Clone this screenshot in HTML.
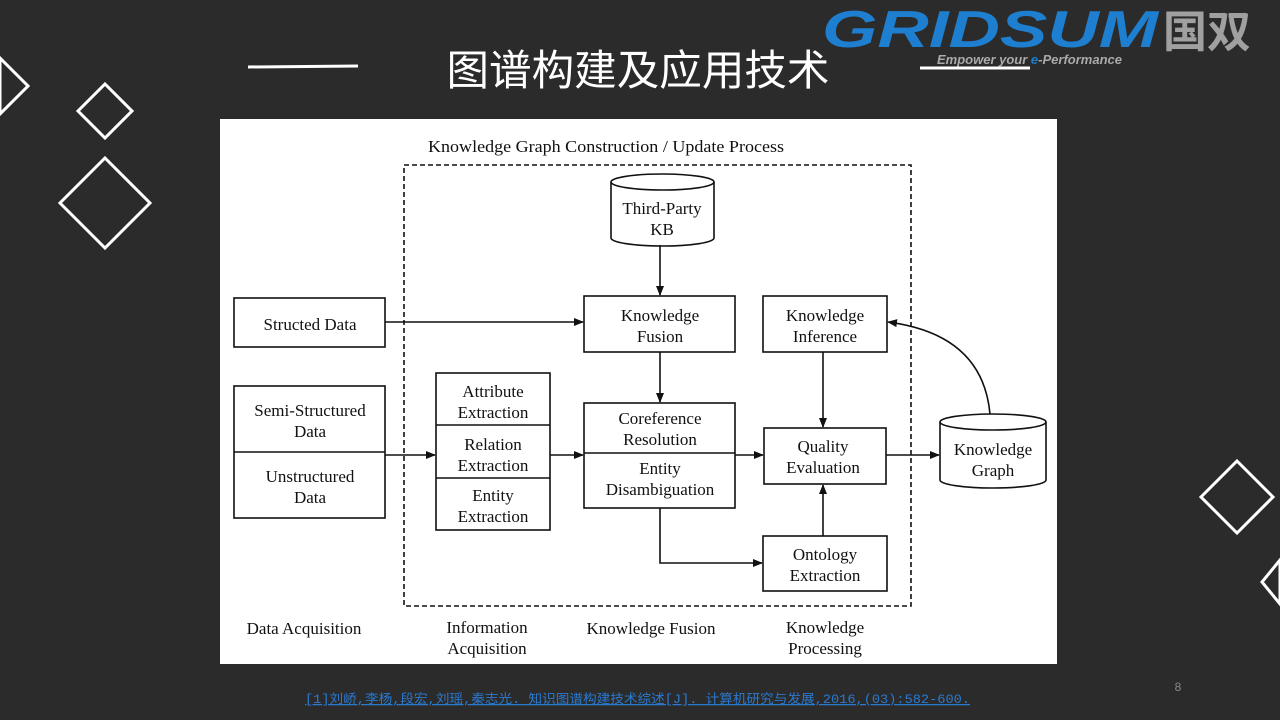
<!DOCTYPE html>
<html><head><meta charset="utf-8"><style>
body{margin:0;width:1280px;height:720px;background:#2b2b2b;overflow:hidden;position:relative;font-family:"Liberation Sans",sans-serif}
</style></head><body>
<svg width="1280" height="720" style="position:absolute;left:0;top:0">
<g fill="none" stroke="#fff" stroke-width="3">
<polygon points="0,58 28,86 0,114"/>
<polygon points="105,84 132,111 105,138 78,111"/>
<polygon points="105,158 150,203 105,248 60,203"/>
<polygon points="1237,461 1273,497 1237,533 1201,497"/>
<polygon points="1280,560 1262,582 1280,604"/>
</g>
<line x1="248" y1="67" x2="358" y2="66" stroke="#fff" stroke-width="3"/>
<line x1="920" y1="68" x2="1030" y2="68" stroke="#fff" stroke-width="3"/>
<text x="638" y="85" fill="#fff" font-size="42" text-anchor="middle" textLength="383" lengthAdjust="spacingAndGlyphs" font-family="Noto Sans CJK SC,sans-serif">图谱构建及应用技术</text>
<text x="822" y="47" fill="#1e7fd0" font-size="52" font-weight="bold" font-style="italic" textLength="336" lengthAdjust="spacingAndGlyphs" font-family="Liberation Sans">GRIDSUM</text>
<text x="1163" y="47" fill="#a0a0a0" font-size="44" font-weight="bold" font-family="Noto Sans CJK SC,sans-serif">国双</text>
<text x="937" y="64" fill="#aaa" font-size="13" font-style="italic" font-weight="bold">Empower your <tspan fill="#1e7fd0">e</tspan>-Performance</text>
<rect x="220" y="119" width="837" height="545" fill="#fff"/>
<defs><marker id="a" markerWidth="10" markerHeight="8" refX="9" refY="4" orient="auto" markerUnits="userSpaceOnUse"><path d="M0,0 L10,4 L0,8z" fill="#111"/></marker></defs>
<g stroke="#111" stroke-width="1.6" fill="none">
<rect x="404" y="165" width="507" height="441" stroke-dasharray="5,3"/>
<rect x="234" y="298" width="151" height="49"/>
<rect x="234" y="386" width="151" height="132"/><line x1="234" y1="452" x2="385" y2="452"/>
<rect x="436" y="373" width="114" height="157"/><line x1="436" y1="425" x2="550" y2="425"/><line x1="436" y1="478" x2="550" y2="478"/>
<rect x="584" y="296" width="151" height="56"/>
<rect x="584" y="403" width="151" height="105"/><line x1="584" y1="453" x2="735" y2="453"/>
<rect x="763" y="296" width="124" height="56"/>
<rect x="764" y="428" width="122" height="56"/>
<rect x="763" y="536" width="124" height="55"/>
<path d="M611,182 v56 a51.5,8 0 0 0 103,0 v-56"/><ellipse cx="662.5" cy="182" rx="51.5" ry="8"/>
<path d="M940,422 v58 a53,8 0 0 0 106,0 v-58"/><ellipse cx="993" cy="422" rx="53" ry="8"/>
<g marker-end="url(#a)">
<line x1="385" y1="322" x2="583" y2="322"/>
<line x1="385" y1="455" x2="435" y2="455"/>
<line x1="550" y1="455" x2="583" y2="455"/>
<line x1="735" y1="455" x2="763" y2="455"/>
<line x1="886" y1="455" x2="939" y2="455"/>
<line x1="660" y1="245" x2="660" y2="295"/>
<line x1="660" y1="352" x2="660" y2="402"/>
<path d="M660,508 V563 H762"/>
<line x1="823" y1="352" x2="823" y2="427"/>
<line x1="823" y1="536" x2="823" y2="485"/>
<path d="M990,414 C985,360 950,330 888,322"/>
</g></g>
<g font-family="Liberation Serif,serif" font-size="17" fill="#111" text-anchor="middle">
<text x="606" y="152" textLength="356" lengthAdjust="spacingAndGlyphs">Knowledge Graph Construction / Update Process</text>
<text x="662" y="214">Third-Party</text><text x="662" y="235">KB</text>
<text x="310" y="330">Structed Data</text>
<text x="310" y="416">Semi-Structured</text><text x="310" y="437">Data</text>
<text x="310" y="482">Unstructured</text><text x="310" y="503">Data</text>
<text x="493" y="397">Attribute</text><text x="493" y="418">Extraction</text>
<text x="493" y="450">Relation</text><text x="493" y="471">Extraction</text>
<text x="493" y="501">Entity</text><text x="493" y="522">Extraction</text>
<text x="660" y="321">Knowledge</text><text x="660" y="342">Fusion</text>
<text x="660" y="424">Coreference</text><text x="660" y="445">Resolution</text>
<text x="660" y="474">Entity</text><text x="660" y="495">Disambiguation</text>
<text x="825" y="321">Knowledge</text><text x="825" y="342">Inference</text>
<text x="823" y="452">Quality</text><text x="823" y="473">Evaluation</text>
<text x="825" y="560">Ontology</text><text x="825" y="581">Extraction</text>
<text x="993" y="455">Knowledge</text><text x="993" y="476">Graph</text>
<text x="304" y="634">Data Acquisition</text>
<text x="487" y="633">Information</text><text x="487" y="654">Acquisition</text>
<text x="651" y="634">Knowledge Fusion</text>
<text x="825" y="633">Knowledge</text><text x="825" y="654">Processing</text>
</g>
<text x="1178" y="691" fill="#888" font-size="12" text-anchor="middle">8</text>
<text x="305" y="703" fill="#2a7ad0" font-size="12.5" textLength="665" lengthAdjust="spacingAndGlyphs" font-family="Liberation Mono,Noto Sans CJK SC,monospace" text-decoration="underline">[1]刘峤,李杨,段宏,刘瑶,秦志光. 知识图谱构建技术综述[J]. 计算机研究与发展,2016,(03):582-600.</text>
</svg>
</body></html>
